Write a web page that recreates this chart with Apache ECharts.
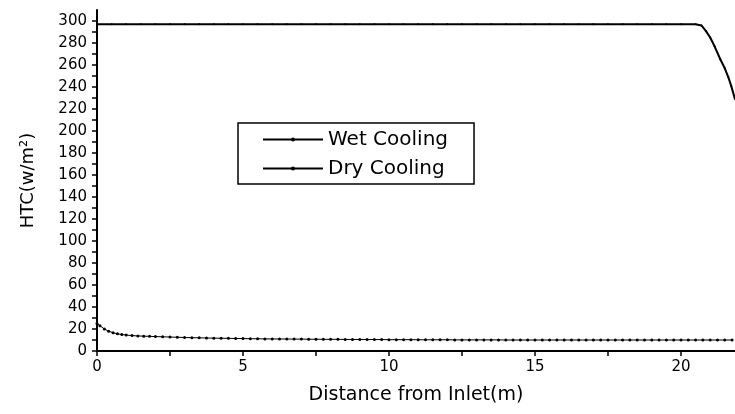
<!DOCTYPE html>
<html>
<head>
<meta charset="utf-8">
<script src="https://cdn.jsdelivr.net/npm/echarts@6/dist/echarts.min.js"></script>
<style>
  html, body { margin: 0; padding: 0; background: #fff; }
  #chart { width: 735px; height: 414px; }
</style>
</head>
<body>
<div id="chart"></div>
<script>
// Heat transfer coefficient along the channel, wet vs dry cooling
const wetX = [0, 0.5, 1, 1.5, 2, 2.5, 3, 3.5, 4, 4.5, 5, 5.5, 6, 6.5, 7, 7.5, 8, 8.5, 9, 9.5, 10,
  10.5, 11, 11.5, 12, 12.5, 13, 13.5, 14, 14.5, 15, 15.5, 16, 16.5, 17, 17.5, 18, 18.5, 19, 19.5,
  20, 20.5, 20.7, 20.85, 21.0, 21.15, 21.35, 21.5, 21.62, 21.72, 21.85];
const wetY = [297, 297, 297, 297, 297, 297, 297, 297, 297, 297, 297, 297, 297, 297, 297, 297, 297, 297, 297, 297, 297,
  297, 297, 297, 297, 297, 297, 297, 297, 297, 297, 297, 297, 297, 297, 297, 297, 297, 297, 297,
  297, 297, 296, 291, 285, 277, 265, 257, 249, 241, 229];

const dryX = [0, 0.1, 0.25, 0.4, 0.55, 0.7, 0.85, 1, 1.2, 1.4, 1.6, 1.8, 2, 2.25, 2.5, 2.75, 3, 3.25, 3.5, 3.75,
  4, 4.25, 4.5, 4.75, 5, 5.25, 5.5, 5.75, 6, 6.25, 6.5, 6.75, 7, 7.25, 7.5, 7.75, 8, 8.25, 8.5, 8.75,
  9, 9.25, 9.5, 9.75, 10, 10.25, 10.5, 10.75, 11, 11.25, 11.5, 11.75, 12, 12.25, 12.5, 12.75, 13, 13.25,
  13.5, 13.75, 14, 14.25, 14.5, 14.75, 15, 15.25, 15.5, 15.75, 16, 16.25, 16.5, 16.75, 17, 17.25, 17.5,
  17.75, 18, 18.25, 18.5, 18.75, 19, 19.25, 19.5, 19.75, 20, 20.25, 20.5, 20.75, 21, 21.25, 21.5, 21.75];
const dryY = [25, 23, 20, 18, 16.6, 15.6, 15, 14.5, 14, 13.7, 13.5, 13.3, 13.1, 12.9, 12.7, 12.5, 12.3, 12.1, 12, 11.8,
  11.7, 11.6, 11.5, 11.4, 11.3, 11.2, 11.1, 11, 11, 10.9, 10.9, 10.8, 10.8, 10.7, 10.7, 10.6, 10.6, 10.6, 10.5, 10.5,
  10.5, 10.4, 10.4, 10.4, 10.3, 10.3, 10.3, 10.3, 10.2, 10.2, 10.2, 10.2, 10.2, 10.1, 10.1, 10.1, 10.1, 10.1,
  10.1, 10.1, 10, 10, 10, 10, 10, 10, 10, 10, 10, 10, 10, 10, 10, 10, 10,
  10, 10, 10, 10, 10, 10, 10, 10, 10, 10, 10, 10, 10, 10, 10, 10, 10];

const xTickLabels = [0, 5, 10, 15, 20];
const xTickMarks = [0, 2.5, 5, 7.5, 10, 12.5, 15, 17.5, 20];
const yTickLabels = [0, 20, 40, 60, 80, 100, 120, 140, 160, 180, 200, 220, 240, 260, 280, 300];
const yTickMarks = [0, 10, 20, 30, 40, 50, 60, 70, 80, 90, 100, 110, 120, 130, 140, 150,
  160, 170, 180, 190, 200, 210, 220, 230, 240, 250, 260, 270, 280, 290, 300];

const pairs = (xs, ys) => xs.map((x, i) => [x, ys[i]]);
const FONT = 'DejaVu Sans, Liberation Sans, sans-serif';

const chart = echarts.init(document.getElementById('chart'), null, { renderer: 'canvas' });
chart.setOption({
  animation: false,
  backgroundColor: '#fff',
  grid: { left: 97, right: 0, top: 10, bottom: 63, containLabel: false },
  xAxis: {
    type: 'value',
    min: 0,
    max: 21.85,
    interval: 5,
    name: 'Distance from Inlet(m)',
    nameLocation: 'middle',
    nameGap: 35,
    nameTextStyle: { fontFamily: FONT, fontSize: 19, color: '#000' },
    axisLine: { show: true, lineStyle: { color: '#000', width: 2 } },
    axisTick: { show: true, inside: false, length: 5, customValues: xTickMarks, lineStyle: { color: '#000', width: 1.5 } },
    axisLabel: { customValues: xTickLabels, margin: 9, fontFamily: FONT, fontSize: 15, color: '#000' },
    splitLine: { show: false }
  },
  yAxis: {
    type: 'value',
    min: 0,
    max: 310,
    interval: 20,
    name: 'HTC(w/m²)',
    nameLocation: 'middle',
    nameGap: 60,
    nameRotate: 90,
    nameTextStyle: { fontFamily: FONT, fontSize: 18, color: '#000' },
    axisLine: { show: true, lineStyle: { color: '#000', width: 2 } },
    axisTick: { show: true, inside: false, length: 5, customValues: yTickMarks, lineStyle: { color: '#000', width: 1.5 } },
    axisLabel: { customValues: yTickLabels, margin: 10, fontFamily: FONT, fontSize: 15, color: '#000' },
    splitLine: { show: false }
  },
  legend: {
    orient: 'vertical',
    left: 238,
    top: 123,
    padding: [6, 26, 5, 24],
    itemGap: 8,
    itemWidth: 60,
    itemHeight: 5,
    borderColor: '#000',
    borderWidth: 1.5,
    textStyle: { fontFamily: FONT, fontSize: 20, color: '#000', lineHeight: 21 },
    data: ['Wet Cooling', 'Dry Cooling']
  },
  series: [
    {
      name: 'Wet Cooling',
      type: 'line',
      data: pairs(wetX, wetY),
      symbol: 'circle',
      symbolSize: 2,
      showSymbol: true,
      lineStyle: { color: '#000', width: 2 },
      itemStyle: { color: '#000' }
    },
    {
      name: 'Dry Cooling',
      type: 'line',
      data: pairs(dryX, dryY),
      symbol: 'circle',
      symbolSize: 3,
      showSymbol: true,
      lineStyle: { color: '#000', width: 1 },
      itemStyle: { color: '#000' }
    }
  ]
});
</script>
</body>
</html>
